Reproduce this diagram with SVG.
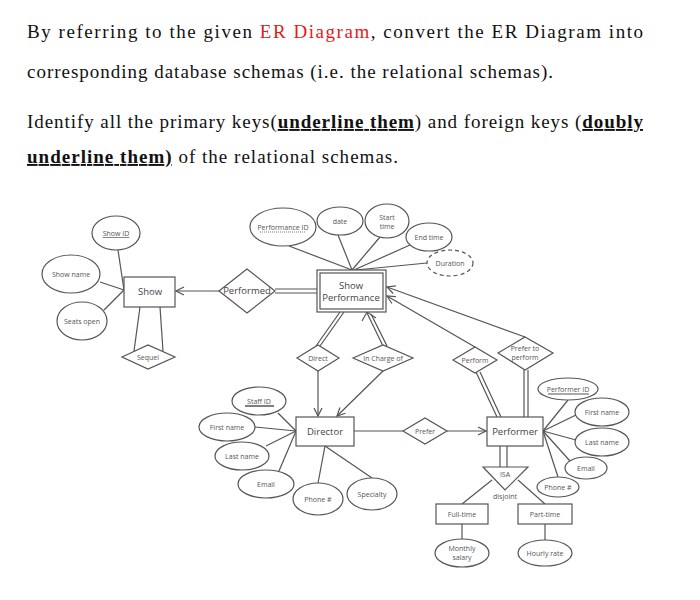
<svg xmlns="http://www.w3.org/2000/svg" width="700" height="600" viewBox="0 0 700 600">
<style>
.h{font-family:"Liberation Serif","DejaVu Serif",serif;font-size:19px;fill:#111}
.b{font-weight:bold;text-decoration:underline}
.e,.r,.d{fill:#fff;stroke:#555;stroke-width:1.2}
.t{font-family:"Open Sans","DejaVu Sans",sans-serif;font-size:7px;fill:#555;text-anchor:middle}
.tl{font-family:"Open Sans","DejaVu Sans",sans-serif;font-size:9.5px;fill:#444;text-anchor:middle}
.c line,.c polyline{stroke:#555;stroke-width:1.2;fill:none}
</style>
<defs><marker id="a" markerWidth="10" markerHeight="10" refX="9" refY="5" orient="auto" markerUnits="userSpaceOnUse"><polyline points="1,1 9,5 1,9" fill="none" stroke="#555" stroke-width="1.2"/></marker></defs>
<rect width="700" height="600" fill="#fff"/>
<text class="h" x="27" y="38" textLength="616">By referring to the given <tspan fill="#e0201c">ER Diagram</tspan>, convert the ER Diagram into</text>
<text class="h" x="27" y="78" textLength="526">corresponding database schemas (i.e. the relational schemas).</text>
<text class="h" x="27" y="128" textLength="616">Identify all the primary keys(<tspan class="b">underline them</tspan>) and foreign keys (<tspan class="b">doubly</tspan></text>
<text class="h" x="27" y="163" textLength="371"><tspan class="b">underline them)</tspan> of the relational schemas.</text>
<g class="c" id="connectors">
<line x1="118" y1="250" x2="124" y2="290"/>
<line x1="100" y1="282" x2="124" y2="290"/>
<line x1="104" y1="310" x2="124" y2="290"/>
<line x1="140" y1="307" x2="134" y2="351"/>
<line x1="160" y1="307" x2="163" y2="351"/>
<line x1="219" y1="291" x2="176" y2="291" marker-end="url(#a)"/>
<line x1="275" y1="289" x2="317" y2="289"/><line x1="275" y1="293" x2="317" y2="293"/>
<line x1="289" y1="246" x2="352" y2="270"/>
<line x1="338" y1="235" x2="352" y2="270"/>
<line x1="380" y1="237" x2="352" y2="270"/>
<line x1="410" y1="245" x2="354" y2="270"/>
<line x1="427" y1="263" x2="356" y2="270"/>
<line x1="340" y1="312" x2="316" y2="346"/><line x1="344" y1="312" x2="320" y2="346"/>
<line x1="383" y1="346" x2="367" y2="313"/><line x1="387" y1="346" x2="371" y2="314"/>
<polyline points="362,321 367,312 376,318"/>
<line x1="475" y1="347" x2="387" y2="296" marker-end="url(#a)"/>
<line x1="525" y1="337" x2="387" y2="287" marker-end="url(#a)"/>
<line x1="476" y1="372" x2="497" y2="417"/><line x1="480" y1="372" x2="501" y2="417"/>
<line x1="524" y1="370" x2="524" y2="417"/><line x1="528" y1="370" x2="528" y2="417"/>
<line x1="318" y1="371" x2="318" y2="416" marker-end="url(#a)"/>
<line x1="383" y1="371" x2="337" y2="416" marker-end="url(#a)"/>
<line x1="354" y1="431" x2="403" y2="431"/>
<line x1="447" y1="431" x2="486" y2="431" marker-end="url(#a)"/>
<line x1="278" y1="413" x2="296" y2="431"/>
<line x1="255" y1="427" x2="296" y2="431"/>
<line x1="266" y1="446" x2="296" y2="431"/>
<line x1="279" y1="471" x2="296" y2="431"/>
<line x1="325" y1="446" x2="318" y2="483"/>
<line x1="325" y1="446" x2="372" y2="478"/>
<line x1="568" y1="400" x2="543" y2="431"/>
<line x1="576" y1="415" x2="543" y2="431"/>
<line x1="576" y1="440" x2="543" y2="431"/>
<line x1="570" y1="461" x2="543" y2="431"/>
<line x1="558" y1="477" x2="543" y2="431"/>
<line x1="500" y1="446" x2="500" y2="467"/><line x1="507" y1="446" x2="507" y2="467"/>
<line x1="492" y1="480" x2="462" y2="504"/>
<line x1="518" y1="480" x2="545" y2="504"/>
<line x1="462" y1="524" x2="462" y2="539"/>
<line x1="545" y1="524" x2="545" y2="540"/>
</g>
<g id="show_id"><ellipse class="e" cx="116" cy="233" rx="24" ry="17"/><text class="t" x="116" y="236" text-decoration="underline">Show ID</text></g>
<g id="show_name"><ellipse class="e" cx="71" cy="274" rx="29" ry="19"/><text class="t" x="71" y="277">Show name</text></g>
<g id="seats_open"><ellipse class="e" cx="82" cy="321" rx="25" ry="19"/><text class="t" x="82" y="324">Seats open</text></g>
<g id="show"><rect class="r" x="124" y="277" width="51" height="30"/><text class="tl" x="150" y="295">Show</text></g>
<g id="sequel"><polygon class="d" points="122,357 148,345 175,357 148,369"/><text class="t" x="148" y="360">Sequel</text></g>
<g id="performed"><polygon class="d" points="219,291 247,269 275,291 247,313" stroke-width="2.2"/><text class="tl" x="247" y="294" font-size="8.5">Performed</text></g>
<g id="show_performance"><rect class="r" x="317" y="270" width="69" height="42" stroke="#999" stroke-width="1.5"/><rect class="r" x="320" y="273" width="63" height="36"/><text class="tl" x="351" y="289">Show</text><text class="tl" x="351" y="301">Performance</text></g>
<g id="performance_id"><ellipse class="e" cx="283" cy="227" rx="33" ry="19"/><text class="t" x="283" y="230">Performance ID</text><line x1="260" y1="232" x2="306" y2="232" stroke="#555" stroke-width="0.8" stroke-dasharray="1,1"/></g>
<g id="date"><ellipse class="e" cx="340" cy="221" rx="23" ry="14"/><text class="t" x="340" y="224">date</text></g>
<g id="start_time"><ellipse class="e" cx="387" cy="221" rx="22" ry="17"/><text class="t" x="387" y="220">Start</text><text class="t" x="387" y="229">time</text></g>
<g id="end_time"><ellipse class="e" cx="429" cy="237" rx="23" ry="14"/><text class="t" x="429" y="240">End time</text></g>
<g id="duration"><ellipse class="e" cx="450" cy="263" rx="23" ry="13" stroke-dasharray="4,3"/><text class="t" x="450" y="266">Duration</text></g>
<g id="direct"><polygon class="d" points="297,358 318,345 339,358 318,371"/><text class="t" x="318" y="361">Direct</text></g>
<g id="in_charge_of"><polygon class="d" points="353,358 383,345 413,358 383,371"/><text class="t" x="383" y="361">In Charge of</text></g>
<g id="perform"><polygon class="d" points="453,360 475,347 497,360 475,373"/><text class="t" x="475" y="363">Perform</text></g>
<g id="prefer_to_perform"><polygon class="d" points="498,353 525,337 553,353 525,370"/><text class="t" x="525" y="351">Prefer to</text><text class="t" x="525" y="360">perform</text></g>
<g id="director"><rect class="r" x="296" y="417" width="58" height="29"/><text class="tl" x="325" y="435">Director</text></g>
<g id="prefer"><polygon class="d" points="403,431 425,418 447,431 425,444"/><text class="t" x="425" y="434">Prefer</text></g>
<g id="performer"><rect class="r" x="487" y="417" width="56" height="29"/><text class="tl" x="515" y="435">Performer</text></g>
<g id="staff_id"><ellipse class="e" cx="259" cy="401" rx="27" ry="14"/><text class="t" x="259" y="404">Staff ID</text><line x1="245" y1="406" x2="274" y2="406" stroke="#555" stroke-width="1.5"/></g>
<g id="d_first_name"><ellipse class="e" cx="227" cy="427" rx="28" ry="14"/><text class="t" x="227" y="430">First name</text></g>
<g id="d_last_name"><ellipse class="e" cx="242" cy="456" rx="27" ry="14"/><text class="t" x="242" y="459">Last name</text></g>
<g id="d_email"><ellipse class="e" cx="266" cy="484" rx="28" ry="14"/><text class="t" x="266" y="487">Email</text></g>
<g id="d_phone"><ellipse class="e" cx="318" cy="499" rx="25" ry="16" stroke-width="2.5"/><ellipse cx="318" cy="499" rx="22" ry="13" fill="none" stroke="#fff" stroke-width="0.8"/><text class="t" x="318" y="502">Phone #</text></g>
<g id="specialty"><ellipse class="e" cx="372" cy="494" rx="25" ry="16" stroke-width="2.5"/><ellipse cx="372" cy="494" rx="22" ry="13" fill="none" stroke="#fff" stroke-width="0.8"/><text class="t" x="372" y="497">Specialty</text></g>
<g id="performer_id"><ellipse class="e" cx="568" cy="389" rx="30" ry="11"/><text class="t" x="568" y="392">Performer ID</text><line x1="548" y1="394" x2="589" y2="394" stroke="#555" stroke-width="1.2"/></g>
<g id="p_first_name"><ellipse class="e" cx="602" cy="412" rx="27" ry="14"/><text class="t" x="602" y="415">First name</text></g>
<g id="p_last_name"><ellipse class="e" cx="602" cy="442" rx="27" ry="14"/><text class="t" x="602" y="445">Last name</text></g>
<g id="p_email"><ellipse class="e" cx="586" cy="468" rx="21" ry="11"/><text class="t" x="586" y="471">Email</text></g>
<g id="p_phone"><ellipse class="e" cx="558" cy="487" rx="21" ry="10"/><text class="t" x="558" y="490">Phone #</text></g>
<g id="isa"><polygon class="d" points="483,467 528,467 505,490"/><text class="t" x="505" y="477">ISA</text><text class="t" x="505" y="499" font-size="3.5">disjoint</text></g>
<g id="full_time"><rect class="r" x="436" y="504" width="52" height="20"/><text class="t" x="462" y="517" font-size="8.5">Full-time</text></g>
<g id="part_time"><rect class="r" x="518" y="504" width="54" height="20"/><text class="t" x="545" y="517" font-size="8.5">Part-time</text></g>
<g id="monthly_salary"><ellipse class="e" cx="462" cy="553" rx="27" ry="14"/><text class="t" x="462" y="551">Monthly</text><text class="t" x="462" y="560">salary</text></g>
<g id="hourly_rate"><ellipse class="e" cx="545" cy="553" rx="27" ry="13"/><text class="t" x="545" y="556">Hourly rate</text></g>
</svg>
